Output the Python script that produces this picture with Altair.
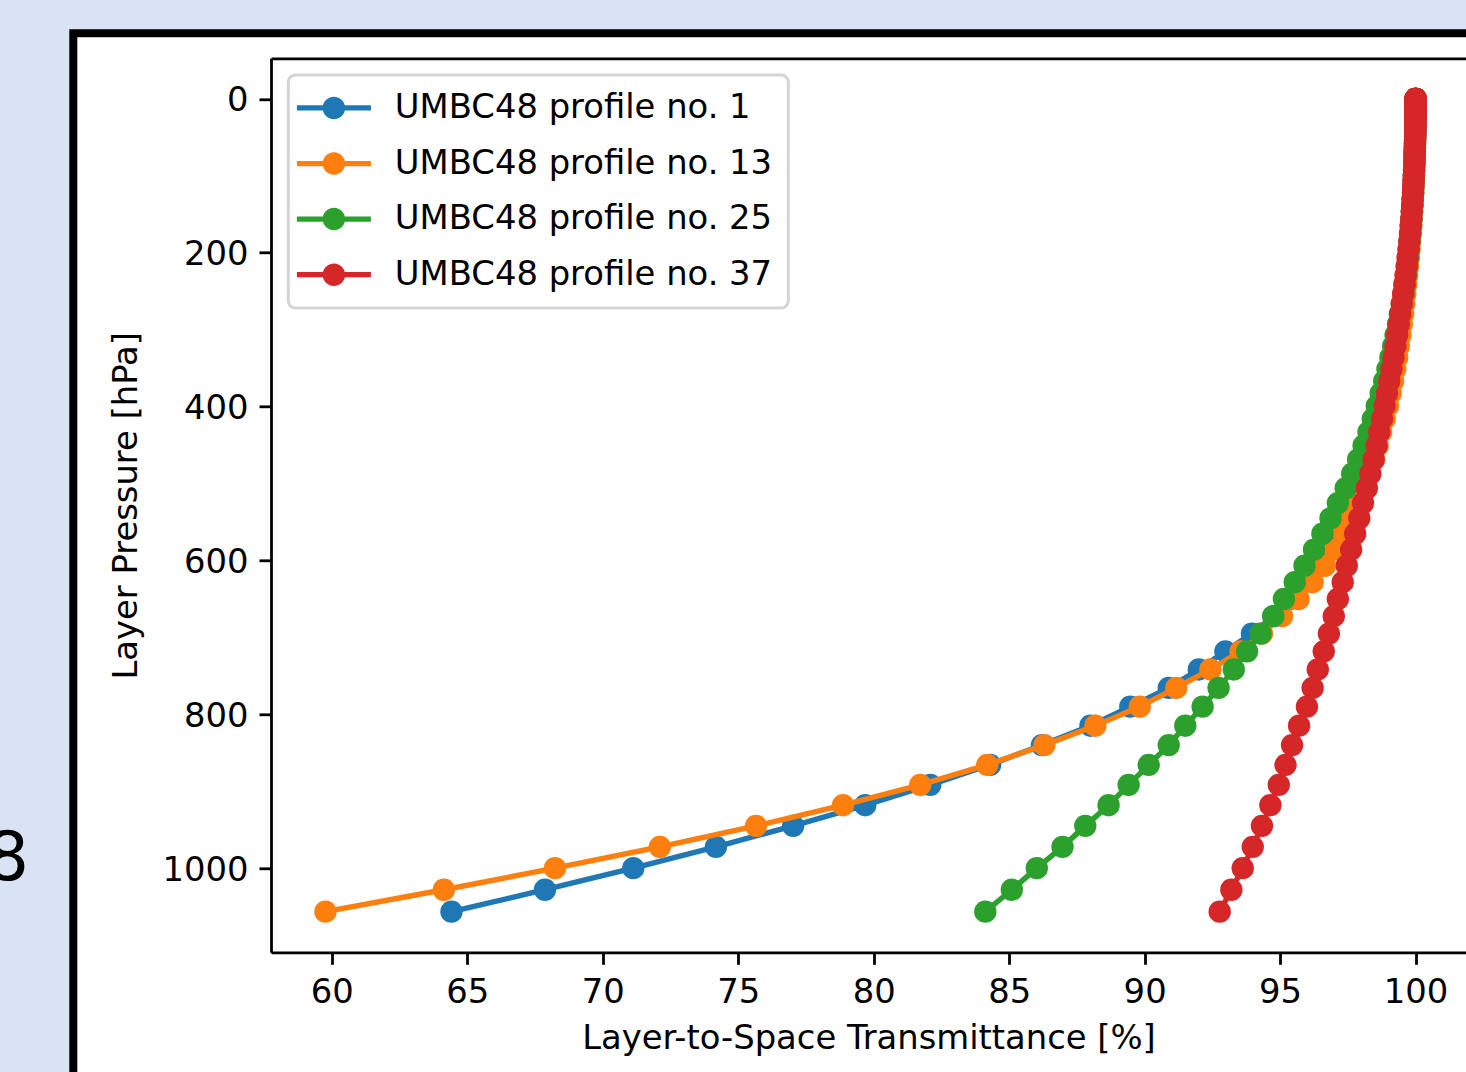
import altair as alt
import pandas as pd

# Layer pressures [hPa], top of atmosphere -> surface
P = [0.0095, 0.026, 0.055, 0.104, 0.178, 0.281, 0.422, 0.604, 0.840, 1.131,
     1.487, 1.913, 2.420, 3.012, 3.700, 4.490, 5.389, 6.406, 7.549, 8.826,
     10.244, 11.811, 13.536, 15.428, 17.491, 19.735, 22.167, 24.795, 27.627, 30.671,
     33.933, 37.422, 41.145, 45.109, 49.321, 53.789, 58.518, 63.515, 68.788, 74.343,
     80.186, 86.325, 92.765, 99.512, 106.571, 113.949, 121.652, 129.684, 138.051, 146.759,
     155.813, 165.218, 174.977, 185.097, 195.581, 206.434, 217.659, 229.260, 241.241, 253.607,
     266.361, 279.505, 293.044, 306.980, 321.317, 336.057, 351.202, 366.754, 382.717, 399.091,
     415.879, 433.082, 450.702, 468.742, 487.201, 506.079, 525.380, 545.103, 565.248, 585.816,
     606.807, 628.222, 650.061, 672.323, 695.008, 718.117, 741.648, 765.600, 789.971, 814.761,
     839.969, 865.594, 891.633, 918.085, 944.947, 972.218, 999.896, 1027.979, 1056.506]

# transmittance of the upper layers (same for all four profiles, indistinguishable)
UPPER = [100.0] * 22 + [99.999, 99.999, 99.998, 99.998, 99.997, 99.996, 99.995, 99.994,
                        99.993, 99.991, 99.989, 99.987, 99.984, 99.981, 99.977, 99.973,
                        99.968, 99.963, 99.957]

T1 = UPPER + [99.953, 99.946, 99.938, 99.93, 99.92, 99.91, 99.898, 99.885, 99.87, 99.853,
              99.834, 99.813, 99.79, 99.765, 99.737, 99.705, 99.67, 99.63, 99.59, 99.55,
              99.50, 99.45, 99.39, 99.33, 99.26, 99.18, 99.10, 99.01, 98.91, 98.80,
              98.67, 98.53, 98.37, 98.18, 97.97, 97.73, 97.46, 97.15, 96.80, 96.38,
              95.90, 95.35, 94.75, 93.96, 92.98, 92.00, 90.89, 89.47, 88.00, 86.21,
              84.30, 82.09, 79.69, 77.03, 74.18, 71.13, 67.87, 64.42]
T13 = UPPER + [99.953, 99.946, 99.939, 99.931, 99.922, 99.912, 99.90, 99.887, 99.873, 99.857,
               99.84, 99.82, 99.80, 99.775, 99.75, 99.72, 99.69, 99.655, 99.62, 99.58,
               99.54, 99.49, 99.44, 99.38, 99.32, 99.25, 99.17, 99.08, 98.98, 98.86,
               98.73, 98.60, 98.47, 98.30, 98.10, 97.88, 97.63, 97.35, 97.02, 96.65,
               96.20, 95.68, 95.07, 94.33, 93.54, 92.43, 91.17, 89.82, 88.18, 86.30,
               84.19, 81.72, 78.87, 75.66, 72.11, 68.24, 64.14, 59.77]
T25 = UPPER + [99.952, 99.945, 99.937, 99.929, 99.919, 99.908, 99.896, 99.882, 99.866, 99.848,
               99.828, 99.805, 99.78, 99.752, 99.72, 99.685, 99.645, 99.60, 99.55, 99.49,
               99.42, 99.35, 99.26, 99.17, 99.07, 98.96, 98.84, 98.71, 98.57, 98.42,
               98.26, 98.08, 97.88, 97.66, 97.42, 97.13, 96.86, 96.56, 96.25, 95.90,
               95.54, 95.14, 94.75, 94.28, 93.78, 93.29, 92.73, 92.14, 91.50, 90.89,
               90.15, 89.41, 88.67, 87.81, 86.97, 86.02, 85.10, 84.12]
T37 = UPPER + [99.95, 99.942, 99.934, 99.925, 99.914, 99.902, 99.889, 99.874, 99.857, 99.838,
               99.817, 99.793, 99.766, 99.736, 99.703, 99.667, 99.628, 99.585, 99.54, 99.49,
               99.435, 99.38, 99.32, 99.255, 99.185, 99.11, 99.03, 98.945, 98.855, 98.76,
               98.66, 98.56, 98.45, 98.33, 98.20, 98.06, 97.92, 97.77, 97.62, 97.46,
               97.31, 97.13, 96.98, 96.80, 96.61, 96.39, 96.20, 95.99, 95.70, 95.44,
               95.20, 94.95, 94.64, 94.33, 93.99, 93.62, 93.20, 92.77]

SERIES = ["UMBC48 profile no. 1", "UMBC48 profile no. 13",
          "UMBC48 profile no. 25", "UMBC48 profile no. 37"]
COLORS = ["#1f77b4", "#ff7f0e", "#2ca02c", "#d62728"]
X_TICKS = [60, 65, 70, 75, 80, 85, 90, 95, 100]
Y_TICKS = [0, 200, 400, 600, 800, 1000]

rows = []
for name, vals in zip(SERIES, [T1, T13, T25, T37]):
    n = min(len(P), len(vals))
    for i in range(n):
        rows.append({"series": name, "layer": i, "p": P[i], "t": vals[i]})
df = pd.DataFrame(rows)
one = pd.DataFrame({"a": [0]})

FONT = "DejaVu Sans"
FS = 33.8
xs = alt.Scale(domain=[57.76, 101.86], nice=False, zero=False)
ys = alt.Scale(domain=[-52.8, 1109.3], reverse=True, nice=False, zero=False)

bottom_axis = alt.Axis(values=X_TICKS, title="Layer-to-Space Transmittance [%]", grid=False,
                       labelFontSize=FS, titleFontSize=FS, labelPadding=11, titlePadding=12,
                       tickSize=12, tickWidth=2.8, domainWidth=2.8, tickColor="black",
                       domainColor="black", labelColor="black", titleColor="black",
                       titleFontWeight="normal", labelFont=FONT, titleFont=FONT, zindex=2)
top_axis = alt.Axis(orient="top", labels=False, ticks=False, title=None, grid=False,
                    domain=True, domainWidth=2.8, domainColor="black", zindex=2)
y_axis = alt.Axis(values=Y_TICKS, format="d", title="Layer Pressure [hPa]", grid=False,
                  labelFontSize=FS, titleFontSize=FS, labelPadding=11, titlePadding=18,
                  labelBaseline="middle", labelOffset=2,
                  tickSize=12, tickWidth=2.8, domainWidth=2.8, tickColor="black",
                  domainColor="black", labelColor="black", titleColor="black",
                  titleFontWeight="normal", labelFont=FONT, titleFont=FONT, zindex=2)
no_axis = None

SYMBOL = ("M-2.467,-0.175 L-0.7,-0.175 L-0.7,0.175 L-2.467,0.175 Z "
          "M0.7,-0.175 L2.467,-0.175 L2.467,0.175 L0.7,0.175 Z "
          "M0.75,0 A0.75,0.75 0 1 1 -0.75,0 A0.75,0.75 0 1 1 0.75,0 Z")
legend = alt.Legend(title=None, orient="none", legendX=17.3, legendY=16.7,
                    symbolType=SYMBOL, symbolSize=900, symbolStrokeWidth=0,
                    symbolOpacity=1, labelFontSize=FS, labelFont=FONT, labelColor="black",
                    labelLimit=1000, padding=16, symbolOffset=12.7, labelOffset=44,
                    rowPadding=20.6, strokeColor="#d4d4d4", fillColor="white",
                    cornerRadius=7, zindex=3)

frame = alt.Chart(one).mark_rect(fill="white", stroke="black", strokeWidth=8).encode(
    x=alt.value(-197.7), x2=alt.value(1400), y=alt.value(-25), y2=alt.value(1200))
eight = alt.Chart(one).mark_text(text="8", fontSize=68, font=FONT, align="right",
                                 baseline="alphabetic", color="black").encode(
    x=alt.value(-242), y=alt.value(822))

layers = [frame, eight]
for k, (name, col) in enumerate(zip(SERIES, COLORS)):
    base = alt.Chart(df).transform_filter(alt.datum.series == name)
    line_x = alt.X("t:Q", scale=xs, axis=top_axis) if k == 0 else alt.X("t:Q", scale=xs, axis=no_axis)
    pt_x = alt.X("t:Q", scale=xs, axis=bottom_axis) if k == 0 else alt.X("t:Q", scale=xs, axis=no_axis)
    pt_y = alt.Y("p:Q", scale=ys, axis=y_axis) if k == 0 else alt.Y("p:Q", scale=ys, axis=no_axis)
    line = base.mark_line(strokeWidth=5.4, color=col).encode(
        x=line_x, y=alt.Y("p:Q", scale=ys, axis=no_axis), order=alt.Order("layer:Q"))
    pts = base.mark_point(filled=True, size=500, opacity=1, shape="circle").encode(
        x=pt_x, y=pt_y,
        color=alt.Color("series:N", scale=alt.Scale(domain=SERIES, range=COLORS), legend=legend))
    layers += [line, pts]

chart = alt.layer(*layers).resolve_axis(x="independent", y="independent").properties(
    width=1195, height=894,
    autosize=alt.AutoSizeParams(type="none"),
    padding={"left": 271, "top": 58.3, "right": 0, "bottom": 119.7},
    background="#dae3f3",
).configure_view(strokeWidth=0).configure_legend(strokeWidth=3)

chart.save("out.html", embed_options={"renderer": "svg", "actions": False})
